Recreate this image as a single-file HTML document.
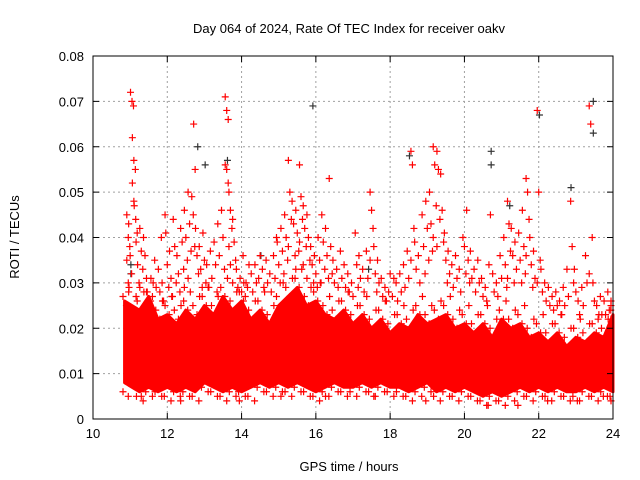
<!DOCTYPE html>
<html><head><meta charset="utf-8"><style>
body{margin:0;background:#fff}
svg{display:block;font-family:"Liberation Sans",sans-serif}
</style></head><body>
<svg id="chart" width="640" height="480">
<text x="349" y="33" text-anchor="middle" font-size="13">Day 064 of 2024, Rate Of TEC Index for receiver oakv</text>
<text x="349" y="471" text-anchor="middle" font-size="13">GPS time / hours</text>
<text transform="translate(19,237) rotate(-90)" text-anchor="middle" font-size="13">ROTI / TECUs</text>
<g id="grid"></g><g id="marks"></g><g id="axes"></g>
</svg>
<script>
const xTicks=[10,12,14,16,18,20,22,24];
const yTicks=[0,0.01,0.02,0.03,0.04,0.05,0.06,0.07,0.08];
const yTickLabels=["0","0.01","0.02","0.03","0.04","0.05","0.06","0.07","0.08"];
const bandTimes=[10.85,11.25,11.5,11.75,12,12.25,12.5,12.75,13,13.25,13.5,13.75,14,14.25,14.5,14.75,15,15.25,15.5,15.75,16,16.25,16.5,16.75,17,17.25,17.5,17.75,18,18.25,18.5,18.75,19,19.25,19.5,19.75,20,20.25,20.5,20.75,21,21.25,21.5,21.75,22,22.25,22.5,22.75,23,23.25,23.5,23.75,24];
const bandHigh=[.026,.024,.027,.022,.023,.021,.024,.022,.025,.023,.027,.024,.026,.022,.024,.021,.025,.027,.029,.025,.026,.023,.022,.024,.021,.023,.020,.022,.019,.021,.020,.023,.021,.022,.023,.020,.021,.019,.021,.018,.022,.020,.021,.018,.019,.017,.019,.016,.018,.017,.019,.018,.023];
const bandLow=[.008,.006,.007,.006,.007,.006,.007,.006,.008,.007,.006,.007,.006,.007,.008,.007,.008,.007,.008,.007,.006,.007,.008,.007,.007,.008,.007,.008,.007,.007,.006,.007,.008,.006,.007,.006,.007,.006,.005,.006,.005,.006,.007,.006,.007,.006,.007,.006,.006,.007,.006,.007,.006];
const edgeTop1=[.029,.028,.030,.026,.027,.025,.028,.027,.029,.027,.031,.028,.030,.026,.028,.025,.030,.031,.033,.029,.030,.027,.026,.028,.025,.027,.024,.026,.023,.025,.024,.027,.025,.026,.027,.024,.025,.023,.025,.022,.026,.024,.025,.022,.023,.021,.023,.020,.022,.021,.023,.022,.026];
const edgeTop2=[.027,.026,.028,.024,.025,.024,.026,.025,.027,.025,.029,.026,.028,.024,.026,.023,.027,.029,.031,.027,.028,.025,.024,.026,.023,.025,.022,.024,.021,.023,.022,.025,.023,.024,.025,.022,.023,.021,.023,.020,.024,.022,.023,.020,.021,.019,.021,.018,.020,.019,.021,.020,.024];
const edgeLow=[.005,.004,.005,.005,.004,.005,.005,.004,.006,.005,.004,.005,.005,.004,.006,.005,.006,.005,.006,.005,.004,.005,.006,.005,.005,.006,.005,.006,.005,.005,.004,.005,.006,.004,.005,.004,.005,.004,.003,.004,.003,.004,.005,.004,.005,.004,.005,.004,.004,.005,.004,.005,.004];
const redGroups=[[11.05,[.072,.070,.069]],[11.1,[.062,.057,.055,.052,.048]],[10.95,[.045,.040,.038,.035,.030]],[11.0,[.043,.036,.032,.028]],[11.15,[.047,.044,.041]],[11.2,[.039,.034,.030,.027]],[11.3,[.042,.037,.033,.029,.005]],[11.4,[.040,.036,.031]],[11.5,[.028,.026]],[11.6,[.031,.027]],[11.7,[.035,.029]],[11.8,[.033,.028,.040]],[11.9,[.030,.026,.045]],
[12.0,[.041,.034,.029]],[12.1,[.037,.031,.027]],[12.2,[.044,.038,.030]],[12.3,[.036,.032,.028]],[12.4,[.042,.039,.033,.004]],[12.5,[.046,.040,.035,.029]],[12.6,[.050,.043,.037,.031]],[12.7,[.049,.045,.038]],[12.75,[.065,.055]],[12.8,[.042,.036,.032]],[12.9,[.038,.033,.029]],
[13.0,[.041,.035,.030]],[13.1,[.034,.029]],[13.2,[.037,.031]],[13.3,[.039,.034,.028]],[13.4,[.043,.036]],[13.5,[.046,.040,.033]],[13.6,[.071,.068,.066,.056,.055,.052]],[13.7,[.050,.046,.042,.038,.034]],[13.8,[.044,.039,.035,.030]],[13.9,[.033,.029,.004]],
[14.0,[.031,.028,.036]],[14.1,[.030,.027]],[14.2,[.029,.034]],[14.3,[.032,.028]],[14.4,[.034,.030]],[14.5,[.031,.036]],[14.6,[.033,.029]],[14.7,[.035,.030]],[14.8,[.032,.028]],[14.9,[.036,.031,.040]],
[15.0,[.039,.034,.030]],[15.1,[.042,.037,.032,.005]],[15.2,[.045,.040,.035]],[15.3,[.057,.050,.044,.038]],[15.4,[.048,.043,.036]],[15.5,[.046,.041,.037,.033]],[15.6,[.056,.049,.044,.039]],[15.7,[.047,.042,.038,.034]],[15.8,[.045,.040,.035,.031]],[15.9,[.038,.034,.030]],
[16.0,[.036,.032,.029]],[16.1,[.040,.035,.030]],[16.2,[.045,.039,.033]],[16.3,[.042,.036,.031,.005]],[16.4,[.053,.038,.032]],[16.5,[.035,.030]],[16.6,[.033,.029]],[16.7,[.037,.031]],[16.8,[.034,.029]],[16.9,[.032,.028]],
[17.0,[.030,.027]],[17.1,[.041,.034,.029]],[17.2,[.036,.031]],[17.3,[.033,.028]],[17.4,[.037,.031]],[17.5,[.050,.046,.042,.035]],[17.6,[.038,.032,.028,.005]],[17.7,[.035,.030]],[17.8,[.031,.027]],[17.9,[.029,.026]],
[18.0,[.028,.032]],[18.1,[.027,.031]],[18.2,[.030,.026]],[18.3,[.032,.028]],[18.4,[.034,.029]],[18.5,[.037,.031]],[18.6,[.059,.056,.042,.035]],[18.7,[.039,.033]],[18.8,[.036,.030]],[18.9,[.045,.038,.032]],
[19.0,[.048,.042,.035,.004]],[19.1,[.050,.043,.037]],[19.2,[.060,.056,.047,.040]],[19.3,[.059,.055,.044,.038]],[19.4,[.054,.046,.039]],[19.5,[.041,.035,.030]],[19.6,[.037,.032]],[19.7,[.034,.029]],[19.8,[.036,.031]],[19.9,[.033,.028]],
[20.0,[.040,.038,.032]],[20.1,[.046,.035,.030]],[20.2,[.037,.031]],[20.3,[.033,.028]],[20.4,[.035,.030]],[20.5,[.031,.027]],[20.6,[.029,.026,.003]],[20.7,[.034,.045]],[20.8,[.032,.028]],[20.9,[.030,.027]],
[21.0,[.036,.031]],[21.1,[.040,.034,.029]],[21.2,[.048,.043,.037,.031]],[21.3,[.042,.036,.030]],[21.4,[.039,.033,.003]],[21.5,[.041,.035,.030]],[21.6,[.046,.038,.032]],[21.7,[.053,.050,.044,.036]],[21.8,[.040,.034,.029]],[21.9,[.037,.031]],
[22.0,[.068,.050,.035,.030]],[22.1,[.033,.028]],[22.2,[.030,.026,.004]],[22.3,[.029,.025]],[22.4,[.027,.024]],[22.5,[.028,.025]],[22.6,[.026,.023]],[22.7,[.029,.025]],[22.8,[.033,.027]],[22.9,[.048,.038,.030]],
[23.0,[.033,.028,.004]],[23.1,[.026,.023]],[23.2,[.029,.025]],[23.3,[.036,.030]],[23.4,[.069,.065,.040,.032]],[23.5,[.030,.026]],[23.6,[.025,.022]],[23.7,[.027,.023,.005]],[23.8,[.026,.023]],[23.9,[.028,.024]],[24.0,[.025,.022]]];
const grayGroups=[[11.0,[.034,.032]],[12.8,[.060]],[13.0,[.056]],[13.6,[.057]],[14.5,[.036]],[15.9,[.069]],[17.4,[.033]],[18.5,[.058]],[20.7,[.059,.056]],[21.2,[.047]],[22.0,[.067]],[22.85,[.051]],[23.45,[.070,.063]]];

const NS="http://www.w3.org/2000/svg";
const L=93,R=613,T=56,B=419;
function xs(v){return L+(v-10)/14*(R-L);}
function ys(v){return B-v/0.08*(B-T);}
function mk(tag,attrs,parent){const e=document.createElementNS(NS,tag);for(const k in attrs)e.setAttribute(k,attrs[k]);parent.appendChild(e);return e;}
const grid=document.getElementById('grid'),marks=document.getElementById('marks'),axes=document.getElementById('axes');
xTicks.forEach((t,i)=>{
  if(i>0&&i<xTicks.length-1){const g=mk('line',{x1:xs(t),x2:xs(t),y1:T,y2:B,stroke:'#a0a0a0','stroke-dasharray':'2,3'},grid);
  
  }
  const a=mk('line',{x1:xs(t),x2:xs(t),y1:B,y2:B-6,stroke:'#000'},axes);
  
  
  mk('line',{x1:xs(t),x2:xs(t),y1:T,y2:T+6,stroke:'#000'},axes);
  const tx=mk('text',{x:xs(t),y:B+19,'text-anchor':'middle','font-size':13},axes);tx.textContent=t;
  
  
});
yTicks.forEach((t,i)=>{
  if(i>0&&i<yTicks.length-1){const g=mk('line',{x1:L,x2:R,y1:ys(t),y2:ys(t),stroke:'#a0a0a0','stroke-dasharray':'2,3'},grid);
  
  }
  const a=mk('line',{x1:L,x2:L+6,y1:ys(t),y2:ys(t),stroke:'#000'},axes);
  
  
  mk('line',{x1:R,x2:R-6,y1:ys(t),y2:ys(t),stroke:'#000'},axes);
  const tx=mk('text',{x:L-9,y:ys(t)+5,'text-anchor':'end','font-size':13},axes);tx.textContent=yTickLabels[i];
  
  
});
const fr=mk('rect',{x:L,y:T,width:R-L,height:B-T,fill:'none',stroke:'#000'},axes);


let d='';
bandTimes.forEach((t,i)=>{d+=(i?'L':'M')+xs(t)+','+ys(bandHigh[i]);});
for(let i=bandTimes.length-1;i>=0;i--)d+='L'+xs(bandTimes[i])+','+ys(bandLow[i]);
const band=mk('path',{d:d+'Z',fill:'#ff0000',stroke:'#ff0000','stroke-width':3,'stroke-linejoin':'round'},marks);


function plus(t,v,col,name){const x=Math.min(R-2,Math.max(L+30,xs(t))),y=ys(v);
  const p=mk('path',{d:`M${x-3.5},${y}h7M${x},${y-3.5}v7`,stroke:col,'stroke-width':1.2},marks);
  
  }
grayGroups.forEach(g=>g[1].forEach(v=>plus(g[0]+0.02,v,'#333','gray-point')));
bandTimes.forEach((t,i)=>{
  plus(t+0.12,edgeTop1[i],'#ff0000','roti-point');
  plus(t-0.06,edgeTop2[i],'#ff0000','roti-point');
  plus(t+0.05,edgeTop2[i]-0.002,'#ff0000','roti-point');
  plus(t+0.1,edgeLow[i],'#ff0000','roti-point');
  plus(t-0.08,edgeLow[i]+0.001,'#ff0000','roti-point');
});
redGroups.forEach(g=>g[1].forEach((v,j)=>plus(g[0]+((j%3)-1)*0.04,v,'#ff0000','roti-point')));
</script>
</body></html>
